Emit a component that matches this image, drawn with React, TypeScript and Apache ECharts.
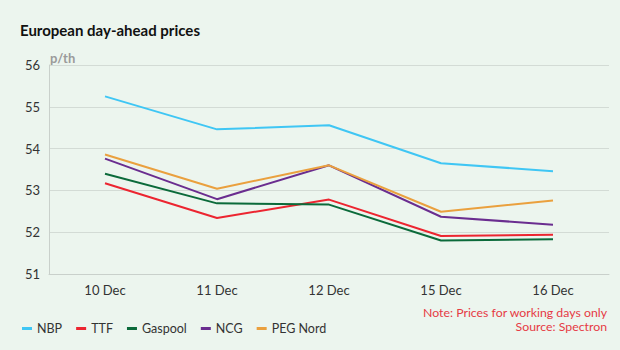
import React, { useEffect, useRef } from "react";
import * as echarts from "echarts";

const categories = ["10 Dec", "11 Dec", "12 Dec", "15 Dec", "16 Dec"];
const nbp = [55.25, 54.46, 54.56, 53.65, 53.46];
const ttf = [53.17, 52.34, 52.78, 51.91, 51.94];
const gaspool = [53.4, 52.69, 52.66, 51.8, 51.83];
const ncg = [53.76, 52.79, 53.6, 52.37, 52.18];
const pegNord = [53.86, 53.04, 53.6, 52.49, 52.76];

const seriesNames = ["NBP", "TTF", "Gaspool", "NCG", "PEG Nord"];
const seriesData = [nbp, ttf, gaspool, ncg, pegNord];
const seriesColors = ["#3fc6f4", "#ec2530", "#0b6a3a", "#6a2d8f", "#eaa03e"];

const FONT = "Lato, 'Open Sans', sans-serif";

export default function App() {
  const ref = useRef<HTMLDivElement>(null);
  useEffect(() => {
    if (!ref.current) return;
    const chart = echarts.init(ref.current, undefined, { renderer: "svg" });
    chart.setOption({
      animation: false,
      backgroundColor: "#ecf5ee",
      textStyle: { fontFamily: FONT },
      title: {
        text: "European day-ahead prices",
        left: 15,
        top: 17,
        textStyle: { fontSize: 15, fontWeight: "bold", color: "#111", fontFamily: FONT },
      },
      grid: { left: 49, right: 11, top: 65, bottom: 76, containLabel: false },
      legend: {
        left: 17,
        top: 317,
        icon: "rect",
        itemWidth: 10,
        itemHeight: 3,
        itemGap: 14,
        textStyle: { fontSize: 12.5, color: "#333", fontFamily: FONT },
        data: seriesNames,
      },
      xAxis: {
        type: "category",
        data: categories,
        boundaryGap: true,
        axisLine: { lineStyle: { color: "#c9d0cb" } },
        axisTick: { show: false },
        axisLabel: { fontSize: 13, color: "#333", margin: 9, fontFamily: FONT },
      },
      yAxis: {
        type: "value",
        min: 51,
        max: 56,
        interval: 1,
        axisLine: { show: true, lineStyle: { color: "#c9d0cb" } },
        axisTick: { show: false },
        axisLabel: { fontSize: 13, color: "#333", margin: 9, fontFamily: FONT },
        splitLine: { lineStyle: { color: "#d3dbd5" } },
      },
      graphic: [
        {
          type: "text",
          x: 50,
          y: 51,
          style: { text: "p/th", fontSize: 13, fontWeight: "bold", fill: "#9a9a9a", fontFamily: FONT },
        },
        {
          type: "text",
          x: 607,
          y: 306,
          style: {
            text: "Note: Prices for working days only",
            align: "right",
            verticalAlign: "top",
            fontSize: 12.3,
            fill: "#e63a44",
            fontFamily: FONT,
          },
        },
        {
          type: "text",
          x: 607,
          y: 320,
          style: {
            text: "Source: Spectron",
            align: "right",
            verticalAlign: "top",
            fontSize: 12.3,
            fill: "#e63a44",
            fontFamily: FONT,
          },
        },
      ],
      series: seriesNames.map((name, i) => ({
        name,
        type: "line",
        data: seriesData[i],
        color: seriesColors[i],
        symbol: "none",
        lineStyle: { width: 2, color: seriesColors[i] },
      })),
    });
    return () => chart.dispose();
  }, []);
  return (
    <div
      ref={ref}
      style={{ width: 620, height: 350, position: "fixed", left: 0, top: 0 }}
    />
  );
}
